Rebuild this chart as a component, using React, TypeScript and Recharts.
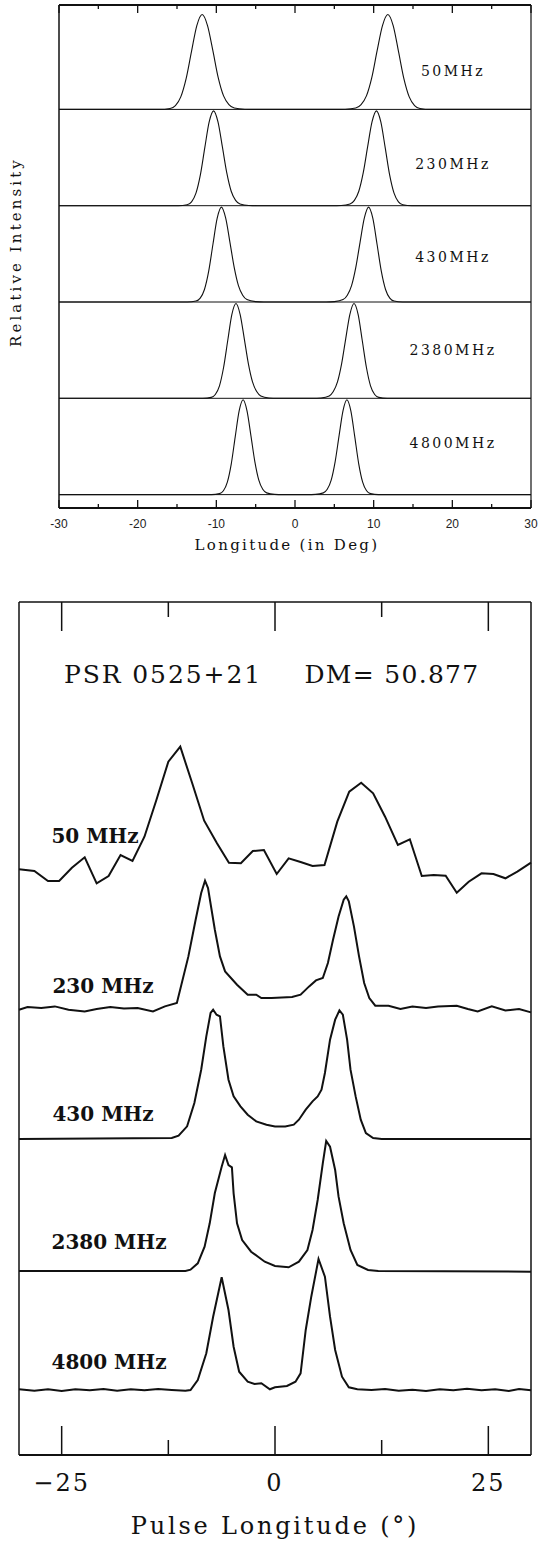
import React from 'react';
import { LineChart, Line, XAxis, YAxis, ReferenceLine } from 'recharts';

const SERIF = '"DejaVu Serif", serif';
const SANS = '"Liberation Sans", Arial, sans-serif';
const INK = '#111';

// ---- model profiles (upper panel), longitude in deg vs relative intensity ----
const modelLabels = ['50MHz', '230MHz', '430MHz', '2380MHz', '4800MHz'];

const model50: [number, number][] = [
  [-30, 0], [-17.24, 0], [-15.88, 0.01], [-15.2, 0.04], [-14.52, 0.13], [-13.84, 0.32], [-13.16, 0.6], [-12.48, 0.87],
  [-11.8, 0.985], [-11.12, 0.87], [-10.44, 0.61], [-9.76, 0.33], [-9.08, 0.14], [-8.4, 0.05], [-7.72, 0.015], [-6.36, 0.002], [-5.0, 0],
  [5.0, 0], [6.36, 0.002], [7.72, 0.015], [8.4, 0.05], [9.08, 0.14], [9.76, 0.33], [10.44, 0.61], [11.12, 0.87],
  [11.8, 0.985], [12.48, 0.87], [13.16, 0.6], [13.84, 0.32], [14.52, 0.13], [15.2, 0.04], [15.88, 0.01], [17.24, 0], [30, 0],
];
const model230: [number, number][] = [
  [-30, 0], [-14.83, 0], [-13.71, 0.01], [-13.15, 0.04], [-12.59, 0.13], [-12.03, 0.32], [-11.47, 0.6], [-10.91, 0.87],
  [-10.35, 0.985], [-9.79, 0.87], [-9.23, 0.61], [-8.67, 0.34], [-8.11, 0.15], [-7.55, 0.055], [-6.99, 0.018], [-5.87, 0.002], [-4.75, 0],
  [4.75, 0], [5.87, 0.002], [6.99, 0.018], [7.55, 0.055], [8.11, 0.15], [8.67, 0.34], [9.23, 0.61], [9.79, 0.87],
  [10.35, 0.985], [10.91, 0.87], [11.47, 0.6], [12.03, 0.32], [12.59, 0.13], [13.15, 0.04], [13.71, 0.01], [14.83, 0], [30, 0],
];
const model430: [number, number][] = [
  [-30, 0], [-13.67, 0], [-12.59, 0.01], [-12.05, 0.04], [-11.51, 0.13], [-10.97, 0.32], [-10.43, 0.6], [-9.89, 0.87],
  [-9.35, 0.985], [-8.81, 0.87], [-8.27, 0.62], [-7.73, 0.36], [-7.19, 0.17], [-6.65, 0.07], [-6.11, 0.025], [-5.03, 0.004], [-3.95, 0],
  [3.95, 0], [5.03, 0.004], [6.11, 0.025], [6.65, 0.07], [7.19, 0.17], [7.73, 0.36], [8.27, 0.62], [8.81, 0.87],
  [9.35, 0.985], [9.89, 0.87], [10.43, 0.6], [10.97, 0.32], [11.51, 0.13], [12.05, 0.04], [12.59, 0.01], [13.67, 0], [30, 0],
];
const model2380: [number, number][] = [
  [-30, 0], [-11.7, 0], [-10.65, 0.01], [-10.13, 0.04], [-9.6, 0.13], [-9.08, 0.32], [-8.55, 0.6], [-8.03, 0.87],
  [-7.5, 0.985], [-6.97, 0.87], [-6.45, 0.62], [-5.93, 0.36], [-5.4, 0.17], [-4.87, 0.07], [-4.35, 0.025], [-3.3, 0.004], [-2.25, 0],
  [2.25, 0], [3.3, 0.004], [4.35, 0.025], [4.87, 0.07], [5.4, 0.17], [5.93, 0.36], [6.45, 0.62], [6.97, 0.87],
  [7.5, 0.985], [8.03, 0.87], [8.55, 0.6], [9.08, 0.32], [9.6, 0.13], [10.13, 0.04], [10.65, 0.01], [11.7, 0], [30, 0],
];
const model4800: [number, number][] = [
  [-30, 0], [-10.6, 0], [-9.6, 0.01], [-9.1, 0.04], [-8.6, 0.13], [-8.1, 0.32], [-7.6, 0.6], [-7.1, 0.87],
  [-6.6, 0.985], [-6.1, 0.87], [-5.6, 0.61], [-5.1, 0.34], [-4.6, 0.15], [-4.1, 0.055], [-3.6, 0.018], [-2.6, 0.002], [-1.6, 0],
  [1.6, 0], [2.6, 0.002], [3.6, 0.018], [4.1, 0.055], [4.6, 0.15], [5.1, 0.34], [5.6, 0.61], [6.1, 0.87],
  [6.6, 0.985], [7.1, 0.87], [7.6, 0.6], [8.1, 0.32], [8.6, 0.13], [9.1, 0.04], [9.6, 0.01], [10.6, 0], [30, 0],
];
const modelSeries = [model50, model230, model430, model2380, model4800];
const modelOffsets = [4, 3, 2, 1, 0];
const modelTicks = [-30, -25, -20, -15, -10, -5, 0, 5, 10, 15, 20, 25, 30];
const modelLabelTicks = [-30, -20, -10, 0, 10, 20, 30];

// ---- observed profiles (lower panel), PSR 0525+21 ----
const obsLabels = ['50 MHz', '230 MHz', '430 MHz', '2380 MHz', '4800 MHz'];

const obs50: [number, number][] = [
  [-30, 2.7], [-28.2, 1], [-26.6, -9], [-25.3, -9], [-23.8, 4.3], [-22.3, 14.7], [-20.9, -11.3], [-19.5, -4], [-18.1, 17],
  [-16.7, 11], [-15.3, 35.3], [-13.9, 72], [-12.5, 110.3], [-11.1, 125.3], [-9.7, 88.7], [-8.3, 51.3], [-6.8, 28.7],
  [-5.4, 9.3], [-4.0, 8.7], [-2.6, 21], [-1.3, 22], [0.2, -2], [1.6, 13.7], [3.0, 10], [4.4, 6], [5.8, 7], [7.3, 50.3],
  [8.7, 80.3], [10.1, 89.3], [11.5, 78.7], [12.9, 55.3], [14.4, 27], [15.8, 32.7], [17.2, -4], [18.6, -3], [20.0, -3.7],
  [21.3, -20.7], [22.7, -9.7], [24.2, -1.3], [25.6, -2], [27.0, -6.3], [28.4, 0.3], [30, 9.3],
];
const obs230: [number, number][] = [
  [-30, -1.7], [-29.0, 1], [-27.4, 0], [-25.8, 1.6], [-24.2, -1.7], [-22.3, -3.4], [-20.9, -1], [-19.3, 1], [-17.7, -0.4],
  [-16.1, 0], [-14.3, -3.4], [-12.9, 1.6], [-11.5, 5], [-10.15, 51.6], [-9.3, 88.3], [-8.65, 115], [-8.2, 127.3],
  [-7.85, 120], [-7.05, 78.3], [-6.45, 51.6], [-5.85, 36.6], [-4.45, 23.3], [-3.2, 13.3], [-2.2, 13.3], [-1.6, 10],
  [-0.4, 10], [0.8, 10.6], [2.0, 11], [3.0, 13.3], [4.0, 21.6], [4.8, 27.6], [5.6, 30], [6.2, 45], [6.8, 68.3],
  [7.45, 91.6], [8.05, 108.3], [8.35, 111.6], [8.65, 106.6], [9.25, 81.6], [9.85, 51.6], [10.45, 25], [11.05, 10],
  [11.75, 2.3], [13.3, 2.3], [14.7, -1], [16.1, 1.6], [17.7, 0], [19.1, 1.6], [21.3, 2.3], [22.6, -1], [23.75, -3.4],
  [25.4, 1.6], [27.0, -2.4], [28.6, -1], [30, -4.4],
];
const obs430: [number, number][] = [
  [-30, 0], [-12.1, 1], [-11.3, 3.3], [-10.3, 12.7], [-9.45, 36], [-8.65, 69.3], [-8.05, 102.6], [-7.55, 126],
  [-7.25, 129.3], [-6.85, 124.3], [-6.45, 122.6], [-6.05, 92.6], [-5.45, 59.3], [-4.85, 42.6], [-4.05, 32.6],
  [-3.2, 24.3], [-2.2, 17.6], [-1.0, 14.3], [0, 12.6], [1.2, 12.6], [2.2, 14.3], [2.8, 19.3], [3.6, 29.3], [4.4, 37.6],
  [5.0, 42.6], [5.45, 49.3], [5.85, 66], [6.45, 99.3], [7.05, 119.3], [7.55, 128.6], [7.95, 124.3], [8.45, 99.3],
  [8.85, 69.3], [9.45, 42.6], [10.05, 19.3], [10.65, 6], [11.5, 1], [12.5, 0], [30, 0],
];
const obs2380: [number, number][] = [
  [-30, 0], [-10.5, 0], [-9.9, 1.3], [-9.05, 7.7], [-8.25, 24.3], [-7.65, 47.7], [-7.05, 78], [-6.25, 104.3],
  [-5.85, 116], [-5.45, 106], [-5.05, 103.7], [-4.85, 77.7], [-4.45, 47.7], [-3.85, 31], [-2.8, 19.3], [-1.2, 9.3],
  [0, 5], [1.6, 3.7], [2.8, 9.3], [3.8, 21], [4.4, 41], [5.0, 71], [5.6, 107.7], [6.0, 130], [6.45, 124.3],
  [7.05, 101], [7.45, 74.3], [8.05, 47.7], [8.85, 21], [9.65, 6], [10.9, 1], [12.1, 0], [30, -0.7],
];
const obs4800: [number, number][] = [
  [-30, 0.7], [-28.2, -0.7], [-26.6, 0.7], [-25.0, -1], [-23.4, 0.7], [-21.7, -0.3], [-20.1, 1], [-18.5, -0.7],
  [-16.9, 0.7], [-15.3, -0.3], [-13.7, 1], [-12.1, 0], [-10.5, -0.7], [-9.9, 0], [-9.05, 10], [-8.05, 36.7],
  [-7.25, 73.3], [-6.25, 112.7], [-5.45, 80], [-4.85, 43.3], [-4.2, 18.3], [-3.2, 8.3], [-2.4, 6], [-1.6, 6.7],
  [-0.6, 0.7], [0, 2.7], [1.4, 4], [2.4, 8.3], [3.0, 16.7], [3.6, 60], [4.25, 93.3], [5.1, 131], [5.85, 113.3],
  [6.45, 73.3], [7.05, 40], [7.85, 13.3], [8.65, 2.7], [9.65, 0.7], [11.3, 0], [12.9, 1], [14.5, -0.7], [16.1, 0.3],
  [17.7, -1], [19.3, 0.7], [20.9, -0.3], [22.5, 1.3], [24.2, -0.3], [25.8, 0.7], [27.4, -1], [28.6, 1], [30, -0.3],
];
const obsSeries = [obs50, obs230, obs430, obs2380, obs4800];
const obsOffsets = [583, 447, 316, 184, 65];
const obsTicks = [-25, -12.5, 0, 12.5, 25];
const obsLabelTicks = [-25, 0, 25];

const MODEL_Y: [number, number] = [-0.139, 5.084];
const OBS_Y: [number, number] = [0, 853];

const toRows = (pts: [number, number][], offset: number) => pts.map(([x, v]) => ({ x, y: offset + v }));

const Text = ({ x, y, children, size, weight = 400, spacing = 0, family = SERIF, rotate = 0 }: any) => (
  <div
    style={{
      position: 'absolute', left: x, top: y, transform: `translate(-50%, -50%) rotate(${rotate}deg)`,
      fontFamily: family, fontSize: size, fontWeight: weight, letterSpacing: spacing, lineHeight: 1,
      whiteSpace: 'nowrap', color: INK,
    }}
  >
    {children}
  </div>
);

const ModelTickLabel = ({ x, y, payload }: any) => (
  <text x={x} y={y + 20} textAnchor="middle" fontFamily={SANS} fontSize={12} fill="#222">
    {payload.value}
  </text>
);
const ObsTickLabel = ({ x, y, payload }: any) => (
  <text x={x} y={y + 36} textAnchor="middle" fontFamily={SERIF} fontSize={24} letterSpacing={2} fill={INK}>
    {payload.value < 0 ? `\u2212${Math.abs(payload.value)}` : `${payload.value}`}
  </text>
);

// inward tick marks on the bottom and top frame edges
const tickSegments = (ticks: number[], dom: [number, number], isMajor: (v: number) => boolean, major: number, minor: number) =>
  ticks.flatMap((t) => {
    const len = isMajor(t) ? major : minor;
    return [
      [{ x: t, y: dom[0] }, { x: t, y: dom[0] + len }],
      [{ x: t, y: dom[1] }, { x: t, y: dom[1] - len }],
    ];
  });

const modelTickSegs = tickSegments(modelTicks, MODEL_Y, (v) => v % 10 === 0, 0.083, 0.042);
const obsTickSegs = tickSegments(obsTicks, OBS_Y, (v) => v % 25 === 0, 29, 15);

export default function App() {
  return (
    <div style={{ position: 'absolute', left: 0, top: 0, width: 539, height: 1541, background: '#fff' }}>
      {/* upper panel: model profiles */}
      <div style={{ position: 'absolute', left: 0, top: 0 }}>
        <LineChart width={539} height={560} margin={{ top: 4, right: 7, bottom: 51, left: 58 }}>
          <XAxis xAxisId="b" dataKey="x" type="number" domain={[-30, 30]} ticks={modelLabelTicks}
            height={1} tickSize={0} tickMargin={0} tickLine={false} tick={<ModelTickLabel />} interval={0}
            axisLine={{ stroke: INK, strokeWidth: 2 }} />
          <XAxis xAxisId="t" orientation="top" dataKey="x" type="number" domain={[-30, 30]} ticks={modelTicks}
            height={1} tickLine={false} tick={false} axisLine={{ stroke: INK, strokeWidth: 2 }} />
          <YAxis yAxisId="l" type="number" domain={MODEL_Y} width={1} tick={false} tickLine={false}
            axisLine={{ stroke: INK, strokeWidth: 1.5 }} />
          <YAxis yAxisId="r" orientation="right" type="number" domain={MODEL_Y} width={1} tick={false}
            tickLine={false} axisLine={{ stroke: INK, strokeWidth: 1.2 }} />
          {modelTickSegs.map((seg, i) => (
            <ReferenceLine key={`mt${i}`} xAxisId="b" yAxisId="l" segment={seg} ifOverflow="visible" stroke={INK} strokeWidth={1.3} />
          ))}
          {modelOffsets.map((o) => (
            <ReferenceLine key={o} xAxisId="b" yAxisId="l" y={o} ifOverflow="visible" stroke={INK} strokeWidth={1} />
          ))}
          {modelSeries.map((s, i) => (
            <Line key={modelLabels[i]} xAxisId="b" yAxisId="l" data={toRows(s, modelOffsets[i])} dataKey="y" type="monotone"
              dot={false} stroke={INK} strokeWidth={1.1} isAnimationActive={false} />
          ))}
        </LineChart>
      </div>

      {/* lower panel: observed profiles */}
      <div style={{ position: 'absolute', left: 0, top: 560 }}>
        <LineChart width={539} height={981} margin={{ top: 41, right: 7, bottom: 85, left: 18 }}>
          <XAxis xAxisId="b" dataKey="x" type="number" domain={[-30, 30]} ticks={obsLabelTicks}
            height={1} tickSize={0} tickMargin={0} tickLine={false} tick={<ObsTickLabel />} interval={0}
            axisLine={{ stroke: INK, strokeWidth: 2 }} />
          <XAxis xAxisId="t" orientation="top" dataKey="x" type="number" domain={[-30, 30]} ticks={obsTicks}
            height={1} tickLine={false} tick={false} axisLine={{ stroke: INK, strokeWidth: 1.4 }} />
          <YAxis yAxisId="l" type="number" domain={OBS_Y} width={1} tick={false} tickLine={false}
            axisLine={{ stroke: INK, strokeWidth: 1.5 }} />
          <YAxis yAxisId="r" orientation="right" type="number" domain={OBS_Y} width={1} tick={false}
            tickLine={false} axisLine={{ stroke: INK, strokeWidth: 1.5 }} />
          {obsTickSegs.map((seg, i) => (
            <ReferenceLine key={`ot${i}`} xAxisId="b" yAxisId="l" segment={seg} ifOverflow="visible" stroke={INK} strokeWidth={1.5} />
          ))}
          {obsSeries.map((s, i) => (
            <Line key={obsLabels[i]} xAxisId="b" yAxisId="l" data={toRows(s, obsOffsets[i])} dataKey="y" type="linear"
              dot={false} stroke={INK} strokeWidth={2} isAnimationActive={false} />
          ))}
        </LineChart>
      </div>

      {/* annotations */}
      <Text x={16} y={252} size={15} spacing={3.1} rotate={-90}>Relative Intensity</Text>
      <Text x={287} y={545} size={15} spacing={2.3}>Longitude (in Deg)</Text>
      {[71, 164, 257, 350, 443].map((y, i) => (
        <Text key={modelLabels[i]} x={453} y={y} size={14} spacing={2.5}>{modelLabels[i]}</Text>
      ))}

      <Text x={163} y={674} size={25} spacing={1.9}>PSR 0525+21</Text>
      <Text x={392} y={674} size={25} spacing={1.3}>DM= 50.877</Text>
      {[836, 986, 1114, 1242, 1362].map((y, i) => (
        <Text key={obsLabels[i]} x={[95, 103, 103, 109, 109][i]} y={y} size={20} weight={700}>{obsLabels[i]}</Text>
      ))}
      <Text x={275} y={1526} size={24} spacing={2.8}>Pulse Longitude (°)</Text>
    </div>
  );
}
